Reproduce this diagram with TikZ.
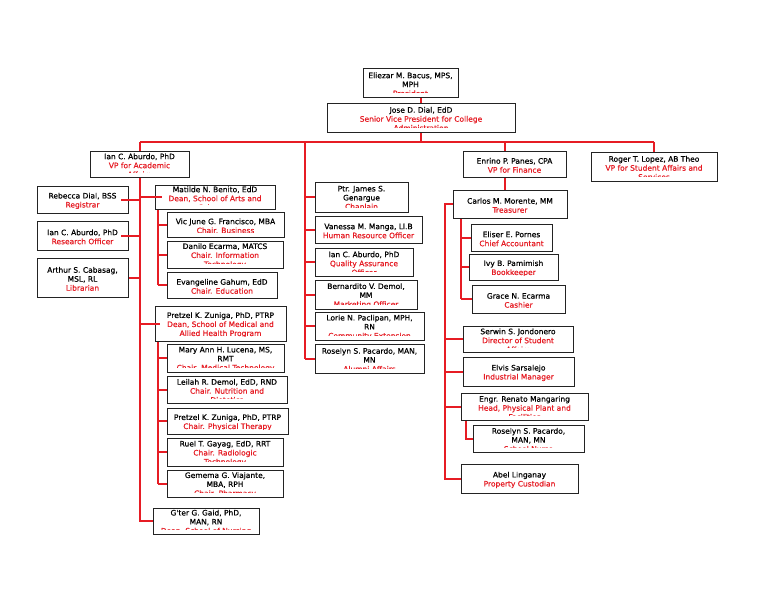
\documentclass[tikz,border=0pt]{standalone}
\usepackage{fontspec}
\setmainfont{DejaVu Sans}
\newfontfamily\orgfont{DejaVu Sans}[FakeBold=0.6]
\usetikzlibrary{backgrounds}
\definecolor{lred}{RGB}{230,28,36}
\definecolor{bord}{RGB}{35,35,35}
\tikzset{
  conn/.style={draw=lred, line width=2pt},
  box/.style={draw=bord, line width=1pt, fill=white, inner sep=0pt, rectangle},
  txt/.style={inner sep=0pt, align=center, anchor=north, font=\orgfont\fontsize{7.5}{9}\selectfont, text=black},
}
\newcommand\rd[1]{\textcolor{lred}{#1}}
% name, left, top, right, bottom, text
\newcommand\bx[6]{%
  \node[box, minimum width={(#4-#2)*1pt}, minimum height={(#5-#3)*1pt},
    path picture={\clip ([yshift=4.8pt]path picture bounding box.south west) rectangle (path picture bounding box.north east);
      \node[txt] (#1-t) at ([yshift=-0.9pt]path picture bounding box.north) {#6};}]
    (#1) at ({(#2+#4)/2},{(#3+#5)/2}) {};}
\begin{document}
\begin{tikzpicture}[x=1pt,y=-1pt]
\useasboundingbox (0,0) rectangle (768,594);

% coordinates of spines
\coordinate (busL) at (140,142);
\coordinate (busR) at (654,142);
\coordinate (sM) at (305,142);
\coordinate (sF) at (505,142);
\coordinate (xR) at (445,0);
\coordinate (xMat) at (158,0);
\coordinate (xPre) at (158,0);
\coordinate (xCar) at (461,0);
\coordinate (xEng) at (466,0);

% ---------- nodes ----------
\bx{eliezar}{363}{69}{458}{97}{Eliezar M. Bacus, MPS,\\MPH\\\rd{President}}
\bx{jose}{327}{103}{515}{132}{Jose D. Dial, EdD\\\rd{Senior Vice President for College}\\\rd{Administration}}
\bx{ianvp}{90}{151}{189}{177}{Ian C. Aburdo, PhD\\\rd{VP for Academic}\\\rd{Affairs}}
\bx{rebecca}{37}{186}{128}{213}{Rebecca Dial, BSS\\\rd{Registrar}}
\bx{ianr}{37}{221}{128}{250}{Ian C. Aburdo, PhD\\\rd{Research Officer}}
\bx{arthur}{37}{258}{128}{297}{Arthur S. Cabasag,\\MSL, RL\\\rd{Librarian}}
\bx{matilde}{155}{185}{275}{209}{Matilde N. Benito, EdD\\\rd{Dean, School of Arts and}\\\rd{Sciences}}
\bx{vic}{167}{212}{284}{237}{Vic June G. Francisco, MBA\\\rd{Chair. Business}}
\bx{danilo}{167}{241}{283}{268}{Danilo Ecarma, MATCS\\\rd{Chair. Information}\\\rd{Technology}}
\bx{evangeline}{167}{272}{277}{298}{Evangeline Gahum, EdD\\\rd{Chair. Education}}
\bx{pdean}{155}{306}{286}{341}{Pretzel K. Zuniga, PhD, PTRP\\\rd{Dean, School of Medical and}\\\rd{Allied Health Program}}
\bx{maryann}{167}{344}{284}{372}{Mary Ann H. Lucena, MS,\\RMT\\\rd{Chair. Medical Technology}}
\bx{leilah}{167}{376}{287}{403}{Leilah R. Demol, EdD, RND\\\rd{Chair. Nutrition and}\\\rd{Dietetics}}
\bx{pchair}{167}{408}{288}{434}{Pretzel K. Zuniga, PhD, PTRP\\\rd{Chair. Physical Therapy}}
\bx{ruel}{167}{438}{283}{466}{Ruel T. Gayag, EdD, RRT\\\rd{Chair. Radiologic}\\\rd{Technology}}
\bx{gemema}{167}{470}{283}{497}{Gemema G. Viajante,\\MBA, RPH\\\rd{Chair. Pharmacy}}
\bx{gter}{153}{508}{259}{534}{G'ter G. Gaid, PhD,\\MAN, RN\\\rd{Dean, School of Nursing}}
\bx{james}{315}{182}{408}{212}{Ptr. James S.\\Genargue\\\rd{Chaplain}}
\bx{vanessa}{315}{216}{422}{243}{Vanessa M. Manga, Ll.B\\\rd{Human Resource Officer}}
\bx{ianqa}{315}{248}{413}{276}{Ian C. Aburdo, PhD\\\rd{Quality Assurance}\\\rd{Officer}}
\bx{bernardito}{315}{280}{417}{309}{Bernardito V. Demol,\\MM\\\rd{Marketing Officer}}
\bx{lorie}{315}{312}{424}{340}{Lorie N. Paclipan, MPH,\\RN\\\rd{Community Extension}}
\bx{roselynm}{315}{344}{424}{373}{Roselyn S. Pacardo, MAN,\\MN\\\rd{Alumni Affairs}}
\bx{enrino}{463}{151}{566}{177}{Enrino P. Panes, CPA\\\rd{VP for Finance}}
\bx{roger}{591}{152}{717}{181}{Roger T. Lopez, AB Theo\\\rd{VP for Student Affairs and}\\\rd{Services}}
\bx{carlos}{453}{190}{567}{218}{Carlos M. Morente, MM\\\rd{Treasurer}}
\bx{eliser}{471}{224}{552}{251}{Eliser E. Pornes\\\rd{Chief Accountant}}
\bx{ivy}{469}{254}{558}{280}{Ivy B. Pamimish\\\rd{Bookkeeper}}
\bx{grace}{472}{285}{565}{313}{Grace N. Ecarma\\\rd{Cashier}}
\bx{serwin}{463}{326}{573}{352}{Serwin S. Jondonero\\\rd{Director of Student}\\\rd{Affairs}}
\bx{elvis}{463}{357}{574}{386}{Elvis Sarsalejo\\\rd{Industrial Manager}}
\bx{engr}{461}{393}{588}{420}{Engr. Renato Mangaring\\\rd{Head, Physical Plant and}\\\rd{Facilities}}
\bx{roselynr}{473}{425}{584}{452}{Roselyn S. Pacardo,\\MAN, MN\\\rd{School Nurse}}
\bx{abel}{461}{464}{578}{493}{Abel Linganay\\\rd{Property Custodian}}

% ---------- connectors drawn on top of boxes (they reach into the box) ----------
\draw[conn] (busL |- rebecca.east) -- ([xshift=-8pt]rebecca.east);
\draw[conn] (busL |- ianr.east) -- ([xshift=-8pt]ianr.east);
\draw[conn] (busL |- matilde.west) -- ([xshift=7pt]matilde.west);
\draw[conn] (busL |- pdean.west) -- ([xshift=5pt]pdean.west);

% ---------- connectors drawn behind boxes ----------
\begin{pgfonlayer}{background}
\fill[white] (0,0) rectangle (768,594);
% top
\draw[conn] (jose.north) -- (jose.north |- eliezar.south);
\draw[conn] (jose.south) -- (jose.south |- busL);
\draw[conn] (busL) -- (busR);
\draw[conn] (busR) -- (roger.north);
% left spine
\draw[conn] (busL) -- (busL |- gter.west) -- (gter.west);
\draw[conn] (busL |- arthur.east) -- (arthur.east);
% Matilde group
\draw[conn] (xMat |- matilde.south) -- (xMat |- evangeline.west);
\draw[conn] (xMat |- vic.west) -- (vic.west);
\draw[conn] (xMat |- danilo.west) -- (danilo.west);
\draw[conn] (xMat |- evangeline.west) -- (evangeline.west);
% Pretzel dean group
\draw[conn] (xPre |- pdean.south) -- (xPre |- gemema.west);
\draw[conn] (xPre |- maryann.west) -- (maryann.west);
\draw[conn] (xPre |- leilah.west) -- (leilah.west);
\draw[conn] (xPre |- pchair.west) -- (pchair.west);
\draw[conn] (xPre |- ruel.west) -- (ruel.west);
\draw[conn] (xPre |- gemema.west) -- (gemema.west);
% middle spine
\draw[conn] (sM) -- (sM |- roselynm.west);
\draw[conn] (sM |- james.west) -- (james.west);
\draw[conn] (sM |- vanessa.west) -- (vanessa.west);
\draw[conn] (sM |- ianqa.west) -- (ianqa.west);
\draw[conn] (sM |- bernardito.west) -- (bernardito.west);
\draw[conn] (sM |- lorie.west) -- (lorie.west);
\draw[conn] (sM |- roselynm.west) -- (roselynm.west);
% finance
\draw[conn] (sF) -- (sF |- carlos.north);
\draw[conn] (carlos.west) -- (xR |- carlos.west) -- (xR |- abel.west) -- (abel.west);
\draw[conn] (xR |- serwin.west) -- (serwin.west);
\draw[conn] (xR |- elvis.west) -- (elvis.west);
\draw[conn] (xR |- engr.west) -- (engr.west);
\draw[conn] (xCar |- carlos.south) -- (xCar |- grace.west);
\draw[conn] (xCar |- eliser.west) -- (eliser.west);
\draw[conn] (xCar |- ivy.west) -- (ivy.west);
\draw[conn] (xCar |- grace.west) -- (grace.west);
\draw[conn] (xEng |- engr.south) -- (xEng |- roselynr.west) -- (roselynr.west);
\end{pgfonlayer}
\end{tikzpicture}
\end{document}
